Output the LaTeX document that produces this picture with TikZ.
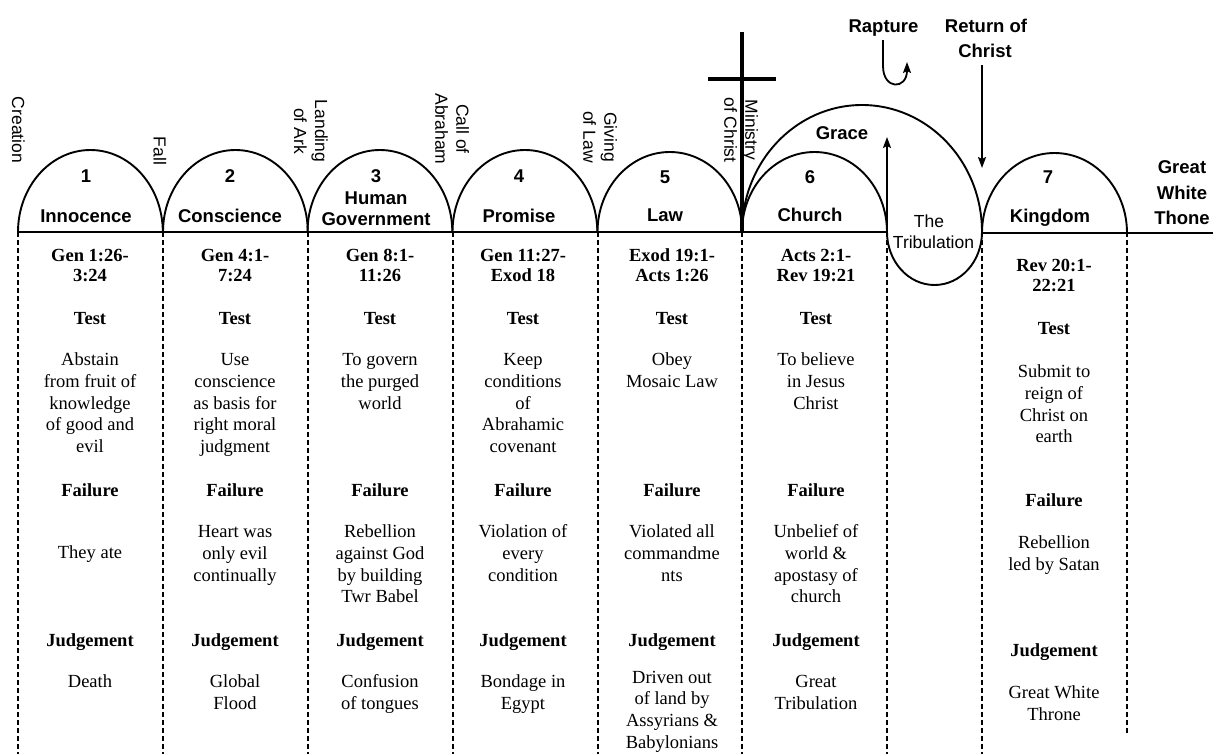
\documentclass[tikz,border=0pt]{standalone}
\usepackage{fontspec}
\setmainfont{Liberation Serif}
\newfontfamily\labfont{Liberation Sans}
\usetikzlibrary{arrows.meta}
\newcommand\dispcol[8]{%
  \node[head] (#1ref) at (#2,247) {\strut #3};
  \node[head] (#1test) at (#2,310) {\strut Test};
  \node[body] (#1tt) at (#2,350.3) {\strut #4};
  \node[head] (#1fail) at (#2,482) {\strut Failure};
  \node[body] (#1ft) at (#2,#5) {\strut #6};
  \node[head] (#1judg) at (#2,632) {\strut Judgement};
  \node[body] (#1jt) at (#2,#8) {\strut #7};
}
\begin{document}
\begin{tikzpicture}[x=1pt,y=-1pt,
  arcline/.style={line width=1.9pt},
  baseline/.style={line width=1.5pt},
  dashline/.style={line width=2pt, dash pattern=on 5pt off 3pt},
  crossline/.style={line width=3.4pt},
  arrowline/.style={line width=1.8pt, -{Stealth[length=11pt,width=8pt,inset=2pt]}},
  body/.style={font=\fontsize{18.5}{21.7}\selectfont, align=center, inner sep=0pt, anchor=north},
  head/.style={font=\fontsize{18.5}{20}\selectfont\bfseries, align=center, inner sep=0pt, anchor=north},
  arclabel/.style={font=\labfont\bfseries\fontsize{18.5}{20}\selectfont, inner sep=0pt, anchor=base},
  event/.style={font=\labfont\fontsize{17.5}{21}\selectfont, rotate=-90, inner sep=0pt, align=center},
]
\useasboundingbox (0,0) rectangle (1213,753);

% boundary coordinates on the base line
\foreach \n/\x in {0/18,1/163,2/307.5,3/452.5,4/597.5,5/742,6/887,7/982,8/1127}{
  \coordinate (b\n) at (\x,232);
}

% base lines
\draw[baseline] (b0) -- (b6);
\draw[baseline] (982,233) -- (1213,233);

% arcs 1-5
\foreach \n in {0,1,2,3}{
  \draw[arcline] (b\n) arc[start angle=180,end angle=0,x radius=72.4pt,y radius=82pt];
}
\draw[arcline] (b4) arc[start angle=180,end angle=0,x radius=72.3pt,y radius=80pt];
% church arc and tribulation loop
\draw[arcline] (b5) arc[start angle=180,end angle=0,x radius=72.5pt,y radius=80pt]
  arc[start angle=180,end angle=360,x radius=47.5pt,y radius=53pt];
% grace arc
\draw[arcline] (b5) arc[start angle=180,end angle=0,x radius=120pt,y radius=127pt];
% kingdom arc
\draw[arcline] (982,233) arc[start angle=180,end angle=0,x radius=72.5pt,y radius=80pt];

% dashed separators
\foreach \n in {0,1,2,3,4,6,7}{
  \draw[dashline] (b\n) -- ++(0,525);
}
\draw[dashline,line width=1.3pt] (b5) -- ++(0,525);
\draw[dashline] (b8) -- (1127,735);

% cross
\coordinate (crossTop) at (742,32);
\coordinate (crossL) at (708,79);
\coordinate (crossR) at (776,79);
\draw[crossline] (crossTop) -- (b5);
\draw[crossline] (crossL) -- (crossR);

% event labels
\node[event] (creation) at (18.5,130) {Creation};
\node[event] (fall) at (160,151) {Fall};
\node[event] (landing) at (311,131) {Landing\\of Ark};
\node[event] (abraham) at (452,129) {Call of\\Abraham};
\node[event] (law) at (600,137) {Giving\\of Law};
\node[event] (ministry) at (741,130) {Ministry\\of Christ};

% arc labels
\node[arclabel] (n1) at (86,182) {1};
\node[arclabel] (l1) at (86,222) {Innocence};
\node[arclabel] (n2) at (230,182) {2};
\node[arclabel] (l2) at (230,222) {Conscience};
\node[arclabel] (n3) at (376,182) {3};
\node[arclabel] (l3a) at (376,204) {Human};
\node[arclabel] (l3b) at (376,225) {Government};
\node[arclabel] (n4) at (519,182) {4};
\node[arclabel] (l4) at (519,222) {Promise};
\node[arclabel] (n5) at (665,183) {5};
\node[arclabel] (l5) at (665,221) {Law};
\node[arclabel] (n6) at (810,183) {6};
\node[arclabel] (l6) at (810,221) {Church};
\node[arclabel] (grace) at (842,139) {Grace};
\node[arclabel] (n7) at (1048,183) {7};
\node[arclabel] (l7) at (1050,222) {Kingdom};
\node[arclabel,font=\labfont\fontsize{17.5}{20}\selectfont] (trib1) at (929,227) {The};
\node[arclabel,font=\labfont\fontsize{17.5}{20}\selectfont] (trib2) at (933.5,248) {Tribulation};
\node[arclabel] (gwt1) at (1182,173) {Great};
\node[arclabel] (gwt2) at (1182,199) {White};
\node[arclabel] (gwt3) at (1182,224) {Thone};
\node[arclabel] (rapture) at (883.5,32) {Rapture};
\node[arclabel] (return1) at (986,32) {Return of};
\node[arclabel] (return2) at (985,57) {Christ};

% arrows
\coordinate (upTop) at (887,137);
\draw[arrowline] (b6) -- (upTop);
\coordinate (downA) at (982,65);
\coordinate (downB) at (982,168);
\draw[arrowline] (downA) -- (downB);
\coordinate (hookA) at (883,40);
\coordinate (hookB) at (907,62);
\draw[arrowline] (hookA) -- (883,66) .. controls (883,90) and (907,90) .. (hookB);

% columns
\dispcol{c1}{90}{Gen 1:26-\\3:24}{Abstain\\from fruit of\\knowledge\\of good and\\evil}{543.3}{They ate}{Death}{672.3}
\dispcol{c2}{235}{Gen 4:1-\\7:24}{Use\\conscience\\as basis for\\right moral\\judgment}{522.3}{Heart was\\only evil\\continually}{Global\\Flood}{672.3}
\dispcol{c3}{380}{Gen 8:1-\\11:26}{To govern\\the purged\\world}{522.3}{Rebellion\\against God\\by building\\Twr Babel}{Confusion\\of tongues}{672.3}
\dispcol{c4}{523}{Gen 11:27-\\Exod 18}{Keep\\conditions\\of\\Abrahamic\\covenant}{522.3}{Violation of\\every\\condition}{Bondage in\\Egypt}{672.3}
\dispcol{c5}{672}{Exod 19:1-\\Acts 1:26}{Obey\\Mosaic Law}{522.3}{Violated all\\commandme\\nts}{Driven out\\of land by\\Assyrians \&\\Babylonians}{667.8}
\dispcol{c6}{816}{Acts 2:1-\\Rev 19:21}{To believe\\in Jesus\\Christ}{522.3}{Unbelief of\\world \&\\apostasy of\\church}{Great\\Tribulation}{672.3}

% column 7
\node[head] (c7ref) at (1054,257) {\strut Rev 20:1-\\22:21};
\node[head] (c7test) at (1054,320) {\strut Test};
\node[body] (c7tt) at (1054,362.3) {\strut Submit to\\reign of\\Christ on\\earth};
\node[head] (c7fail) at (1054,492) {\strut Failure};
\node[body] (c7ft) at (1054,533.3) {\strut Rebellion\\led by Satan};
\node[head] (c7judg) at (1054,642) {\strut Judgement};
\node[body] (c7jt) at (1054,683.3) {\strut Great White\\Throne};
\end{tikzpicture}
\end{document}
